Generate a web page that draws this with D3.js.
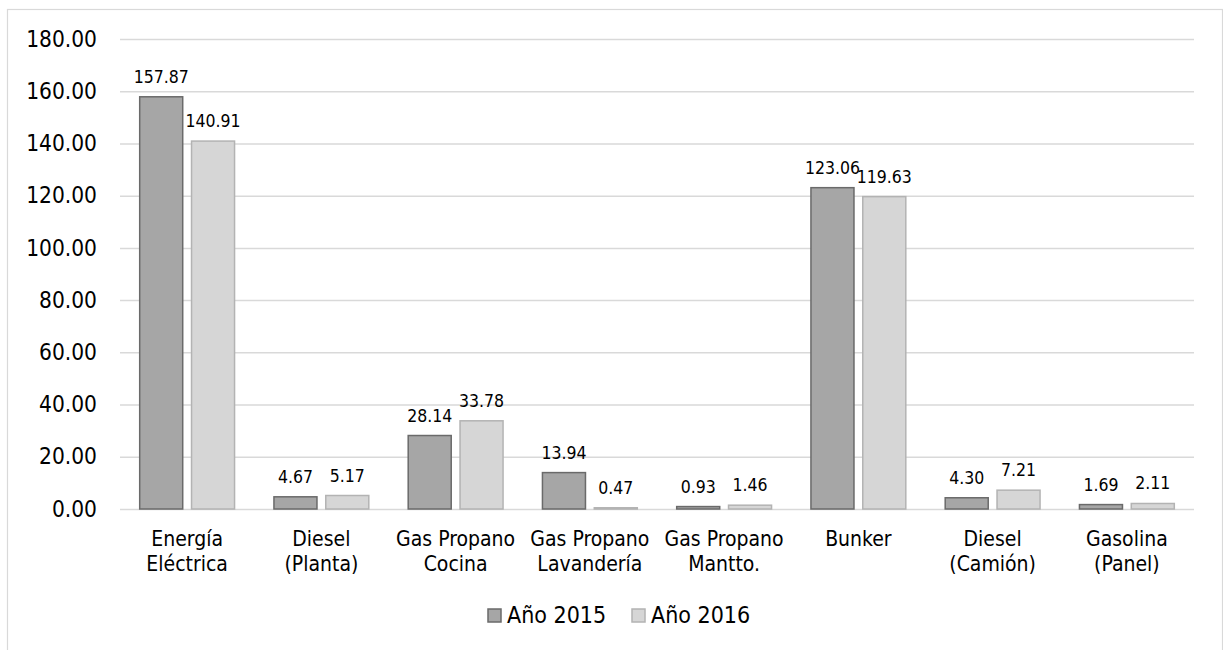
<!DOCTYPE html>
<html>
<head>
<meta charset="utf-8">
<script src="https://cdn.jsdelivr.net/npm/d3@7"></script>
<style>
  body { margin: 0; background: white; }
  text { font-family: "DejaVu Sans Condensed", "DejaVu Sans", sans-serif; fill: #000; }
</style>
</head>
<body>
<div id="chart"></div>
<script>
var width = 1223
var height = 650

// Data

var categories = ["Energía Eléctrica", "Diesel (Planta)", "Gas Propano Cocina", "Gas Propano Lavandería",
    "Gas Propano Mantto.", "Bunker", "Diesel (Camión)", "Gasolina (Panel)"]
var categoryLines = [["Energía", "Eléctrica"], ["Diesel", "(Planta)"], ["Gas Propano", "Cocina"],
    ["Gas Propano", "Lavandería"], ["Gas Propano", "Mantto."], ["Bunker"], ["Diesel", "(Camión)"],
    ["Gasolina", "(Panel)"]]
var series = ["Año 2015", "Año 2016"]
var values2015 = [157.87, 4.67, 28.14, 13.94, 0.93, 123.06, 4.30, 1.69]
var values2016 = [140.91, 5.17, 33.78, 0.47, 1.46, 119.63, 7.21, 2.11]
var yTicks = [0, 20, 40, 60, 80, 100, 120, 140, 160, 180]

var seriesValues = [values2015, values2016]
var fills = ["#a6a6a6", "#d6d6d6"]
var strokes = ["#6a6a6a", "#b3b3b3"]

var plot = {left: 120, right: 1194, top: 39, bottom: 509}

// Scales

var y_scale = d3.scaleLinear()
    .domain([0, 180])
    .range([plot.bottom, plot.top]);

var x_scale = d3.scaleBand()
    .domain(categories)
    .range([plot.left, plot.right])
    .padding(0);

var s_scale = d3.scaleBand()
    .domain(series)
    .range([0, x_scale.bandwidth()])
    .paddingInner(0.17)
    .paddingOuter(0.38);

var svg = d3.select("#chart")
    .append("svg")
    .attr("width", width)
    .attr("height", height)

// Chart border

svg.append("rect")
    .attr("x", 7.5)
    .attr("y", 9.5)
    .attr("width", 1215)
    .attr("height", 700)
    .attr("fill", "white")
    .attr("stroke", "#d9d9d9")
    .attr("stroke-width", 1.2)

// Gridlines + y axis

var yAxis = d3.axisLeft(y_scale)
    .tickValues(yTicks)
    .tickFormat(d3.format(".2f"))
    .tickSizeInner(-(plot.right - plot.left))
    .tickSizeOuter(0)
    .tickPadding(23);

var gy = svg.append("g")
    .attr("transform", "translate(" + plot.left + ",0)")
    .call(yAxis);
gy.select(".domain").remove();
gy.selectAll(".tick line")
    .attr("stroke", "#d9d9d9")
    .attr("stroke-width", 1.5);
gy.selectAll(".tick text")
    .style("font-size", "22.5px")
    .attr("fill", "#000");

// Bars

var groups = svg.append("g")
    .selectAll("g")
    .data(series)
    .enter()
    .append("g");

groups.selectAll("rect")
    .data(function(s, si) {
        return categories.map(function(c, i) { return {c: c, v: seriesValues[si][i], s: s, si: si}; });
    })
    .enter()
    .append("rect")
    .attr("x", function(d) { return x_scale(d.c) + s_scale(d.s); })
    .attr("y", function(d) { return y_scale(d.v); })
    .attr("width", s_scale.bandwidth())
    .attr("height", function(d) { return y_scale(0) - y_scale(d.v); })
    .attr("fill", function(d) { return fills[d.si]; })
    .attr("stroke", function(d) { return strokes[d.si]; })
    .attr("stroke-width", 1.5);

// Data labels

groups.selectAll("text")
    .data(function(s, si) {
        return categories.map(function(c, i) { return {c: c, v: seriesValues[si][i], s: s, si: si}; });
    })
    .enter()
    .append("text")
    .attr("x", function(d) { return x_scale(d.c) + s_scale(d.s) + s_scale.bandwidth() / 2; })
    .attr("y", function(d) { return y_scale(d.v) - 14; })
    .attr("text-anchor", "middle")
    .style("font-size", "17.5px")
    .text(function(d) { return d3.format(".2f")(d.v); });

// X axis labels

var xAxis = d3.axisBottom(x_scale).tickSize(0).tickFormat("");
var gx = svg.append("g")
    .attr("transform", "translate(0," + plot.bottom + ")")
    .call(xAxis);
gx.select(".domain").remove();

gx.selectAll(".tick")
    .append("text")
    .attr("text-anchor", "middle")
    .style("font-size", "21px")
    .each(function(d, i) {
        var t = d3.select(this);
        categoryLines[i].forEach(function(line, j) {
            t.append("tspan")
                .attr("x", 0)
                .attr("y", 37 + j * 25)
                .text(line);
        });
    });

// Legend

var legendX = [488, 632];
var legend = svg.append("g")
    .selectAll("g")
    .data(series)
    .enter()
    .append("g")
    .attr("transform", function(d, i) { return "translate(" + legendX[i] + ",609)"; });

legend.append("rect")
    .attr("width", 13)
    .attr("height", 13)
    .attr("fill", function(d, i) { return fills[i]; })
    .attr("stroke", function(d, i) { return strokes[i]; })
    .attr("stroke-width", 1.5);

legend.append("text")
    .attr("x", 19)
    .attr("y", 14)
    .style("font-size", "23px")
    .text(function(d) { return d; });
</script>
</body>
</html>
